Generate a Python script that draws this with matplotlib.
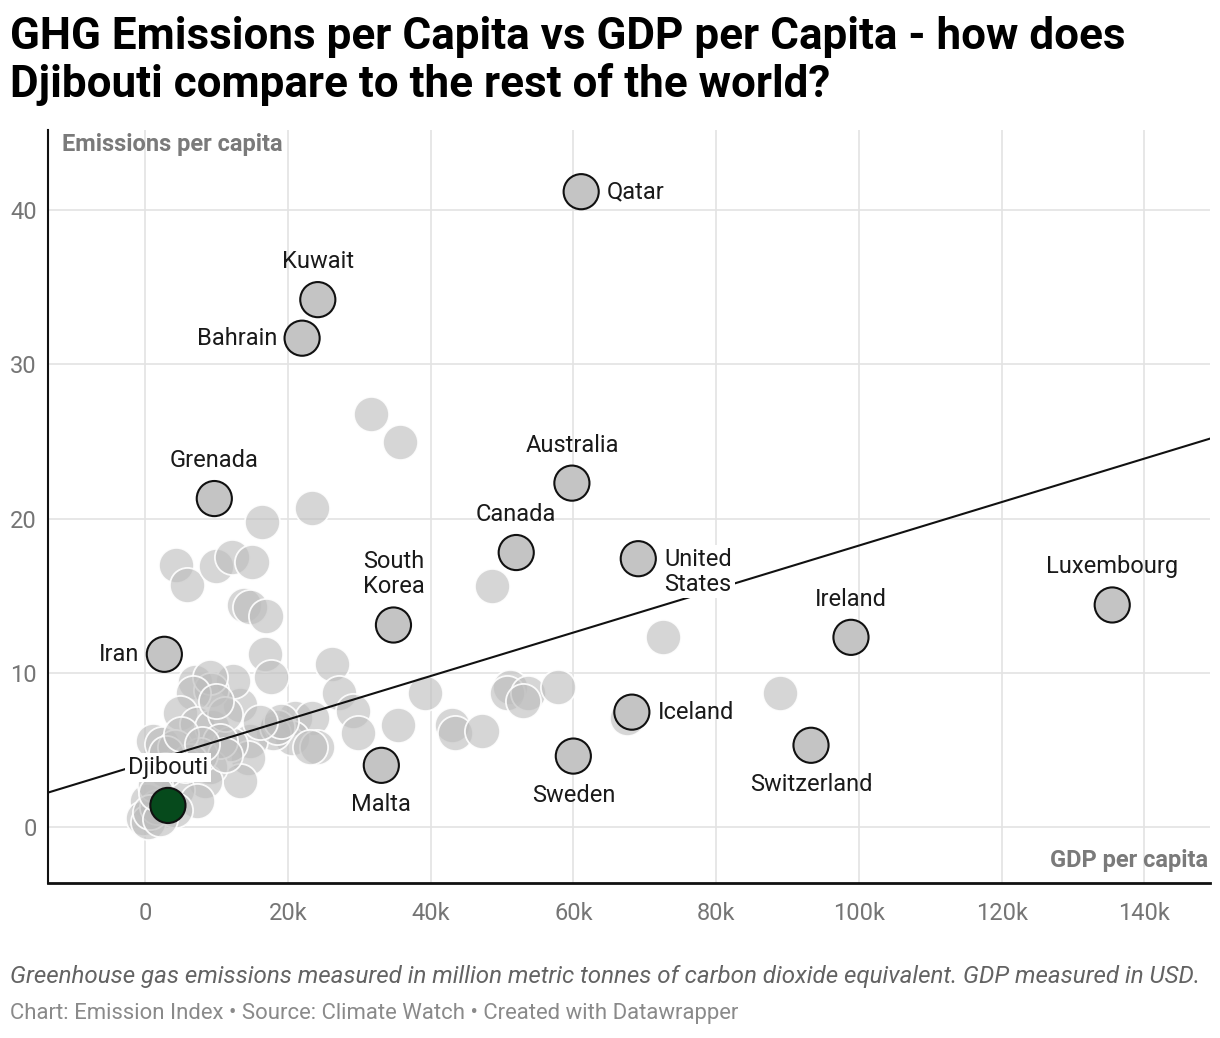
import matplotlib
matplotlib.use("Agg")
import matplotlib.pyplot as plt
import numpy as np

# ---------------- data ----------------
# labelled countries: GDP per capita (thousand USD), emissions per capita
countries = ["Qatar", "Kuwait", "Bahrain", "Grenada", "Australia", "Canada",
             "United\nStates", "South\nKorea", "Iran", "Luxembourg", "Ireland",
             "Iceland", "Switzerland", "Sweden", "Malta", "Djibouti"]
country_gdp = [61.1, 24.2, 22.0, 9.7, 59.8, 52.0, 69.1, 34.8, 2.7, 135.5, 98.9,
               68.2, 93.3, 60.0, 33.1, 3.2]
country_em = [41.2, 34.2, 31.7, 21.3, 22.3, 17.8, 17.4, 13.1, 11.2, 14.4, 12.3,
              7.45, 5.3, 4.6, 4.0, 1.4]
label_pos = ["right", "top", "left", "top", "top", "top", "right", "top", "left",
             "top", "top", "right", "bottom", "bottom", "bottom", "top"]

# other countries (unlabelled)
other_gdp = [31.7, 35.7, 23.4, 16.4, 4.3, 5.9, 9.9, 12.2, 15.0, 13.9, 14.7, 17.0,
             16.8, 17.7, 26.2, 27.2, 48.6, 72.6, 89.0, 39.2, 51.1, 50.7, 53.7, 53.0,
             57.9, 43.0, 43.4, 47.2, 67.5, 29.1, 29.8, 35.5, 21.0, 23.4, 20.6, 17.9,
             24.1, 14.7, 13.3, 12.3, 14.4, 13.3, 7.0, 9.2, 9.1, 6.7, 4.9, 7.3, 9.4,
             1.1, 2.4, 4.2, 11.9, 18.5, 19.1, 23.1, 9.1, 8.4, 0.3, -0.3, 0.4, 4.5,
             7.3, 1.7, 11.2, 10.5, 7.7, 5.6, 2.8, 1.4, 4.2, 0.7, 2.1, 6.3, 11.2, 16.1,
             1.5, 3.0, 5.0, 8.0, 10.0]
other_em = [26.8, 25.0, 20.7, 19.8, 17.0, 15.7, 16.9, 17.5, 17.2, 14.4, 14.3, 13.7,
            11.2, 9.7, 10.6, 8.7, 15.6, 12.3, 8.7, 8.7, 9.1, 8.7, 8.7, 8.2,
            9.1, 6.6, 6.1, 6.2, 7.1, 7.5, 6.1, 6.6, 7.1, 7.1, 5.8, 6.1,
            5.2, 5.6, 7.9, 9.5, 4.5, 3.0, 9.4, 8.9, 9.7, 8.7, 7.4, 6.7, 6.5,
            5.6, 5.4, 5.2, 5.4, 6.5, 6.9, 5.2, 3.9, 3.0, 1.7, 0.6, 0.3, 2.4,
            1.7, 1.3, 7.3, 5.6, 4.7, 4.0, 3.7, 2.7, 1.1, 1.0, 0.5, 4.3, 4.7, 6.8,
            2.2, 4.8, 6.0, 5.4, 8.2]

# linear trend line: emissions = intercept + slope * GDP(k)
trend_intercept = 4.15
trend_slope = 0.141

x_ticks = [0, 20, 40, 60, 80, 100, 120, 140]
y_ticks = [0, 10, 20, 30, 40]

title = "GHG Emissions per Capita vs GDP per Capita - how does\nDjibouti compare to the rest of the world?"
caption = "Greenhouse gas emissions measured in million metric tonnes of carbon dioxide equivalent. GDP measured in USD."
credits = "Chart: Emission Index \u2022 Source: Climate Watch \u2022 Created with Datawrapper"

# ---------------- plot ----------------
plt.rcParams['font.family'] = ['Roboto', 'DejaVu Sans']

W, H = 1220, 1038
fig = plt.figure(figsize=(W / 100, H / 100), dpi=100)
ax = fig.add_axes([48 / W, 1 - 883 / H, (1210 - 48) / W, (883 - 130) / H])

ax.set_xlim(-13.6, 149.2)
ax.set_ylim(-3.63, 45.2)

ax.set_xticks(x_ticks)
ax.set_xticklabels(["0" if t == 0 else f"{t}k" for t in x_ticks])
ax.set_yticks(y_ticks)
ax.set_yticklabels([str(t) for t in y_ticks])
ax.tick_params(axis='both', length=0, labelsize=17, colors='#757575')
ax.tick_params(axis='x', pad=14)
ax.tick_params(axis='y', pad=8)

ax.grid(True, color='#e3e3e3', lw=1.2, zorder=0)
ax.set_axisbelow(True)
for s in ['top', 'right']:
    ax.spines[s].set_visible(False)
ax.spines['left'].set_color('#111111')
ax.spines['left'].set_linewidth(1.5)
ax.spines['bottom'].set_color('#111111')
ax.spines['bottom'].set_linewidth(2.0)

ms = 640
ax.scatter(other_gdp, other_em, s=ms, facecolor=(0.74, 0.74, 0.74, 0.62),
           edgecolor=(1, 1, 1, 0.9), linewidth=1.3, zorder=2)

xl = np.array(ax.get_xlim())
ax.plot(xl, trend_intercept + trend_slope * xl, color='#111111', lw=1.5, zorder=3)

colors = ['#c4c4c4'] * (len(countries) - 1) + ['#064a1c']
ax.scatter(country_gdp, country_em, s=ms, facecolor=colors, edgecolor='#111111',
           linewidth=1.5, zorder=5)

offsets = {"right": (26, 0, 'left', 'center'), "left": (-25, 0, 'right', 'center'),
           "top": (0, 38, 'center', 'center'), "bottom": (0, -39, 'center', 'center')}
for name, gx, ey, pos in zip(countries, country_gdp, country_em, label_pos):
    dx, dy, ha, va = offsets[pos]
    if "\n" in name:
        if pos == "right":
            dy = -13
        else:
            dy = 51
    bbox = None
    if name in ("Djibouti", "United\nStates"):
        bbox = dict(boxstyle='square,pad=0.12', facecolor='white', edgecolor='none')
    ax.annotate(name, (gx, ey), xytext=(dx, dy), textcoords='offset pixels',
                ha=ha, va=va, fontsize=17, color='#1a1a1a', zorder=6,
                linespacing=1.1, bbox=bbox)

ax.text(62 / W, 1 - 145 / H, "Emissions per capita", transform=fig.transFigure,
        ha='left', va='center', fontsize=17, fontweight='bold', color='#7a7a7a')
ax.text(1208 / W, 1 - 860 / H, "GDP per capita", transform=fig.transFigure,
        ha='right', va='center', fontsize=17, fontweight='bold', color='#7a7a7a')

fig.text(10 / W, 1 - 61 / H, title, ha='left', va='center', fontsize=31.7,
         fontweight='bold', color='#000000', linespacing=1.12)
fig.text(10 / W, 1 - 977 / H, caption, ha='left', va='center', fontsize=17.4,
         style='italic', color='#636363')
fig.text(10 / W, 1 - 1014 / H, credits, ha='left', va='center', fontsize=15.9,
         color='#8a8a8a')

fig.savefig("out.png", dpi=100, facecolor='white')
